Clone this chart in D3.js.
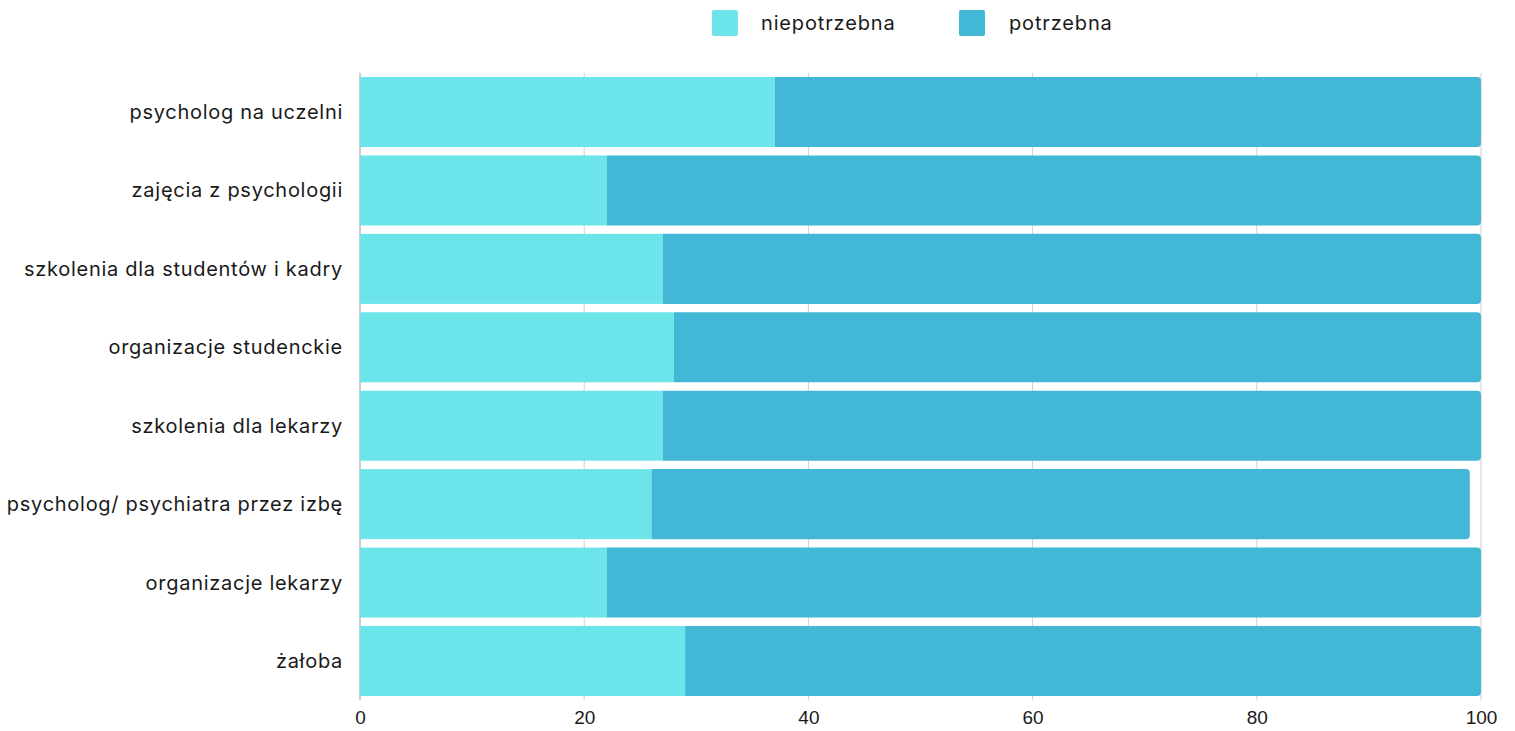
<!DOCTYPE html>
<html>
<head>
<meta charset="utf-8">
<script src="https://cdn.jsdelivr.net/npm/d3@7"></script>
<style>
  html, body { margin: 0; padding: 0; background: #fff; }
  svg { display: block; }
</style>
</head>
<body>
<svg id="chart" width="1515" height="731"></svg>
<script>
// Survey answers: share of respondents marking each form of support
const categories = [
  "psycholog na uczelni",
  "zajęcia z psychologii",
  "szkolenia dla studentów i kadry",
  "organizacje studenckie",
  "szkolenia dla lekarzy",
  "psycholog/ psychiatra przez izbę",
  "organizacje lekarzy",
  "żałoba"
];
const niepotrzebna = [37, 22, 27, 28, 27, 26, 22, 29];
const potrzebna    = [63, 78, 73, 72, 73, 73, 78, 71];
const seriesNames  = ["niepotrzebna", "potrzebna"];
const xTicks       = [0, 20, 40, 60, 80, 100];

const colors = { niepotrzebna: "#6be5e9", potrzebna: "#42b7d6" };
const labelFont = "Inter, 'Noto Sans', sans-serif";
const tickFont = "'Liberation Sans', Arial, sans-serif";

const svg = d3.select("#chart");
const margin = { left: 360, right: 34, top: 72.8, bottom: 30.8 };
const W = 1515, H = 731;

const x = d3.scaleLinear().domain([0, 100]).range([margin.left, W - margin.right]);
const y = d3.scaleBand().domain(categories).range([margin.top, H - margin.bottom]).paddingInner(0.107).paddingOuter(0.054);

// vertical grid
svg.append("g").selectAll("line").data(xTicks).join("line")
  .attr("x1", d => x(d)).attr("x2", d => x(d))
  .attr("y1", margin.top).attr("y2", H - margin.bottom)
  .attr("stroke", d => d === 0 ? "#9a9a9a" : "#cfcfcf")
  .attr("stroke-width", 1);

const rows = categories.map((c, i) => ({ c, a: niepotrzebna[i], b: potrzebna[i] }));

// left segment
svg.append("g").selectAll("rect").data(rows).join("rect")
  .attr("x", x(0))
  .attr("y", d => y(d.c))
  .attr("width", d => x(d.a) - x(0))
  .attr("height", y.bandwidth())
  .attr("fill", colors.niepotrzebna);

// right segment, rounded on its outer end
const r = 4;
svg.append("g").selectAll("path").data(rows).join("path")
  .attr("d", d => {
    const x0 = x(d.a), x1 = x(d.a + d.b), y0 = y(d.c), h = y.bandwidth();
    return `M${x0},${y0} H${x1 - r} Q${x1},${y0} ${x1},${y0 + r} V${y0 + h - r} Q${x1},${y0 + h} ${x1 - r},${y0 + h} H${x0} Z`;
  })
  .attr("fill", colors.potrzebna);

// category labels
svg.append("g").selectAll("text").data(categories).join("text")
  .attr("x", margin.left - 17)
  .attr("y", d => y(d) + y.bandwidth() / 2)
  .attr("dy", "0.35em")
  .attr("text-anchor", "end")
  .attr("font-family", labelFont)
  .attr("font-size", 20)
  .attr("letter-spacing", 0.72)
  .attr("fill", "#1a1a1a")
  .text(d => d);

// x axis tick labels
const xAxis = d3.axisBottom(x).tickValues(xTicks).tickSize(0).tickPadding(0);
const gx = svg.append("g").attr("transform", `translate(0,${H - margin.bottom + 10})`).call(xAxis);
gx.select(".domain").remove();
gx.selectAll("text")
  .attr("font-family", tickFont)
  .attr("font-size", 19)
  .attr("fill", "#1a1a1a")
  .attr("dy", "0.71em");

// legend
const legendX = [712, 959];
const lg = svg.append("g").selectAll("g").data(seriesNames).join("g")
  .attr("transform", (d, i) => `translate(${legendX[i]},10)`);
lg.append("rect").attr("width", 26).attr("height", 26).attr("rx", 2)
  .attr("fill", d => colors[d]);
lg.append("text")
  .attr("x", (d, i) => i === 0 ? 49 : 50)
  .attr("y", 13).attr("dy", "0.35em")
  .attr("font-family", labelFont)
  .attr("font-size", 20)
  .attr("letter-spacing", 0.85)
  .attr("fill", "#1a1a1a")
  .text(d => d);
</script>
</body>
</html>
